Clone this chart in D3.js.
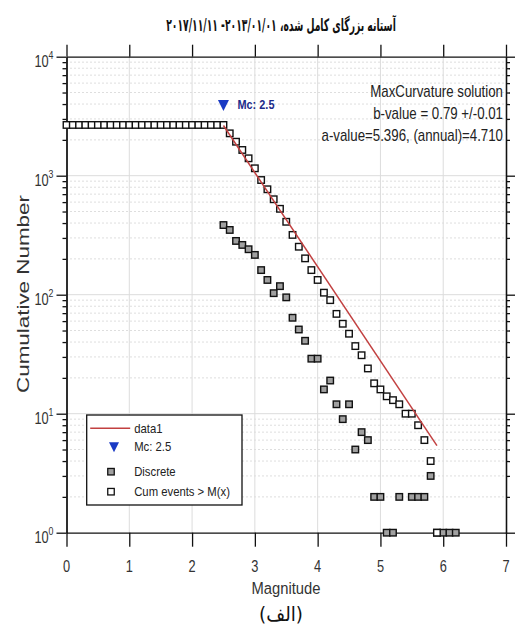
<!DOCTYPE html>
<html>
<head>
<meta charset="utf-8">
<script src="https://cdn.jsdelivr.net/npm/d3@7"></script>
<style>
  body { margin: 0; background: #fff; }
  text { font-family: "Liberation Sans", Arial, sans-serif; fill: #333; }
</style>
</head>
<body>
<svg class="chart" width="515" height="629"></svg>
<script>
// values
const cumMag = [0.0, 0.1, 0.2, 0.3, 0.4, 0.5, 0.6, 0.7, 0.8, 0.9, 1.0, 1.1, 1.2, 1.3, 1.4, 1.5, 1.6, 1.7, 1.8, 1.9,
    2.0, 2.1, 2.2, 2.3, 2.4, 2.5, 2.6, 2.7, 2.8, 2.9, 3.0, 3.1, 3.2, 3.3, 3.4, 3.5, 3.6, 3.7, 3.8, 3.9,
    4.0, 4.1, 4.2, 4.3, 4.4, 4.5, 4.6, 4.7, 4.8, 4.9, 5.0, 5.1, 5.2, 5.3, 5.4, 5.5, 5.6, 5.7, 5.8, 5.9];
const cumCount = [2670, 2670, 2670, 2670, 2670, 2670, 2670, 2670, 2670, 2670, 2670, 2670, 2670, 2670, 2670, 2670, 2670, 2670, 2670, 2670,
    2670, 2670, 2670, 2670, 2670, 2670, 2270, 1930, 1645, 1400, 1154, 920, 769, 634, 527, 410, 318, 253, 202, 161,
    133, 104, 90, 69, 57, 47, 37, 31, 24, 18, 16, 14, 13, 12, 10, 10, 8, 6, 4, 1];

const discMag = [2.5, 2.6, 2.7, 2.8, 2.9, 3.0, 3.1, 3.2, 3.3, 3.4, 3.5, 3.6, 3.7, 3.8, 3.9, 4.0, 4.1, 4.2, 4.3, 4.4,
    4.5, 4.6, 4.7, 4.8, 4.9, 5.0, 5.1, 5.2, 5.3, 5.5, 5.6, 5.7, 5.8, 5.9, 6.0, 6.1, 6.2];
const discCount = [385, 350, 283, 262, 241, 216, 161, 133, 103, 118, 95, 64, 51, 41, 29, 29, 16, 19, 12, 9,
    12, 5, 7, 6, 2, 2, 1, 1, 2, 2, 2, 2, 3, 1, 1, 1, 1];

const fitMag = [2.5, 5.9];
const fitCount = [2640, 5.4];

const mcValue = 2.5;
const mcMarkerCount = 3930;

const xTicks = [0, 1, 2, 3, 4, 5, 6, 7];
const yTicks = [1, 10, 100, 1000, 10000];
const yExponents = ['0', '1', '2', '3', '4'];

const titleText = 'آستانه بزرگای کامل شده، ۲۰۱۳/۰۱/۰۱- ۲۰۱۷/۱۱/۱۱';
const noteLines = ['MaxCurvature solution', 'b-value = 0.79 +/-0.01', 'a-value=5.396, (annual)=4.710'];
const legendLabels = ['data1', 'Mc: 2.5', 'Discrete', 'Cum events > M(x)'];

const margin = {top: 56.7, left: 66.5};
const width = 439.5, height = 476;
const boxSize = 6.5;

const svg = d3.select('.chart');
const chart = svg.append('g')
    .attr('transform', `translate(${margin.left},${margin.top})`);

const x = d3.scaleLinear().domain([0, 7]).range([0, width]);
const y = d3.scaleLog().domain([1, 10000]).range([height, 0]);

// text squeezed horizontally, like the stretched picture
function squeezed(parent, str, px, py, opts) {
    const t = parent.append('text')
        .attr('text-anchor', opts.anchor || 'start')
        .style('font-size', opts.size + 'px')
        .text(str);
    if (opts.family) t.style('font-family', opts.family);
    if (opts.weight) t.style('font-weight', opts.weight);
    if (opts.fill) t.style('fill', opts.fill);
    if (opts.rtl) t.attr('direction', 'rtl');
    let s = opts.scale || 1;
    if (opts.target) s = opts.target / t.node().getComputedTextLength();
    const rot = opts.rotate ? ` rotate(${opts.rotate})` : '';
    t.attr('transform', `translate(${px},${py})${rot} scale(${s},1)`);
    return t;
}

// minor values for the log axis
const minorVals = [];
[1, 10, 100, 1000].forEach(d => {
    [2, 3, 4, 5, 6, 7, 8, 9].forEach(k => minorVals.push(d * k));
});

// grid
chart.selectAll('.minor-grid')
    .data(minorVals)
    .enter().append('line')
    .attr('x1', 0).attr('x2', width)
    .attr('y1', d => y(d)).attr('y2', d => y(d))
    .style('stroke', '#bcbcbc')
    .style('stroke-width', 1)
    .style('stroke-dasharray', '1,3');

chart.selectAll('.major-grid-y')
    .data(yTicks.slice(1, -1))
    .enter().append('line')
    .attr('x1', 0).attr('x2', width)
    .attr('y1', d => y(d)).attr('y2', d => y(d))
    .style('stroke', '#dcdcdc');

chart.selectAll('.major-grid-x')
    .data(xTicks.slice(1, -1))
    .enter().append('line')
    .attr('x1', d => x(d)).attr('x2', d => x(d))
    .attr('y1', 0).attr('y2', height)
    .style('stroke', '#dcdcdc');

// axes (lines and ticks only)
function styleAxis(g) {
    g.selectAll('path, line').style('stroke', '#111').style('stroke-width', 1.3);
    g.selectAll('text').remove();
}

chart.append('g').attr('transform', `translate(0,${height})`)
    .call(d3.axisBottom(x).tickValues(xTicks).tickSize(14).tickSizeOuter(0)).call(styleAxis);
chart.append('g')
    .call(d3.axisTop(x).tickValues(xTicks).tickSize(12).tickSizeOuter(0)).call(styleAxis);
chart.append('g')
    .call(d3.axisLeft(y).tickValues(yTicks).tickSize(10).tickSizeOuter(0)).call(styleAxis);
chart.append('g')
    .call(d3.axisLeft(y).tickValues(minorVals).tickSize(4).tickSizeOuter(0)).call(styleAxis);
chart.append('g').attr('transform', `translate(${width},0)`)
    .call(d3.axisRight(y).tickValues(yTicks).tickSize(9).tickSizeOuter(0)).call(styleAxis);
chart.append('g').attr('transform', `translate(${width},0)`)
    .call(d3.axisRight(y).tickValues(minorVals).tickSize(4).tickSizeOuter(0)).call(styleAxis);

// tick labels
chart.selectAll('.x-label')
    .data(xTicks)
    .enter().append('text')
    .attr('transform', d => `translate(${x(d)},${height + 39}) scale(0.8,1)`)
    .attr('text-anchor', 'middle')
    .style('font-size', '16px')
    .text(d => d);

const yLabels = chart.selectAll('.y-label')
    .data(yTicks)
    .enter().append('text')
    .attr('transform', d => `translate(-13,${y(d) + 10}) scale(0.8,1)`)
    .attr('text-anchor', 'end')
    .style('font-size', '16px');
yLabels.append('tspan').text('10');
yLabels.append('tspan')
    .attr('dy', -8)
    .style('font-size', '11px')
    .text((d, i) => yExponents[i]);

// data
chart.selectAll('.discrete')
    .data(discMag)
    .enter().append('rect')
    .attr('x', (d) => x(d) - boxSize / 2)
    .attr('y', (d, i) => y(discCount[i]) - boxSize / 2)
    .attr('width', boxSize).attr('height', boxSize)
    .style('fill', '#a0a0a0')
    .style('stroke', '#111')
    .style('stroke-width', 1.4);

chart.selectAll('.cum')
    .data(cumMag)
    .enter().append('rect')
    .attr('x', (d) => x(d) - boxSize / 2)
    .attr('y', (d, i) => y(cumCount[i]) - boxSize / 2)
    .attr('width', boxSize).attr('height', boxSize)
    .style('fill', '#fff')
    .style('stroke', '#111')
    .style('stroke-width', 1.4);

chart.append('line')
    .attr('x1', x(fitMag[0])).attr('y1', y(fitCount[0]))
    .attr('x2', x(fitMag[1])).attr('y2', y(fitCount[1]))
    .style('stroke', '#c24040')
    .style('stroke-width', 1.5);

// Mc marker
const triangle = (cx, cy, s) => `M${cx - s / 2},${cy - s * 0.45} L${cx + s / 2},${cy - s * 0.45} L${cx},${cy + s * 0.55} Z`;
chart.append('path')
    .attr('d', triangle(x(mcValue), y(mcMarkerCount), 11))
    .style('fill', '#1a3ac4');
squeezed(chart, 'Mc: ' + mcValue, x(mcValue) + 14, y(mcMarkerCount) + 4.5,
    {size: 13, weight: 'bold', fill: '#1c2a8a', target: 37});

// annotation top right
noteLines.forEach((line, i) => {
    squeezed(chart, line, width - 3, 40.5 + i * 22, {size: 16, anchor: 'end', fill: '#222', scale: 0.83});
});

// legend
const legend = svg.append('g').attr('transform', 'translate(86.7,415)');
legend.append('rect')
    .attr('width', 155.3).attr('height', 90)
    .style('fill', '#fff')
    .style('stroke', '#111')
    .style('stroke-width', 1.3);
const rowY = [13.3, 31.7, 56.7, 76.7];
legend.append('line')
    .attr('x1', 3.5).attr('x2', 43.5)
    .attr('y1', rowY[0]).attr('y2', rowY[0])
    .style('stroke', '#c24040').style('stroke-width', 1.5);
legend.append('path')
    .attr('d', triangle(27.3, rowY[1], 10))
    .style('fill', '#1a3ac4');
legend.append('rect')
    .attr('x', 24.3 - boxSize / 2).attr('y', rowY[2] - boxSize / 2)
    .attr('width', boxSize).attr('height', boxSize)
    .style('fill', '#a0a0a0').style('stroke', '#111').style('stroke-width', 1.3);
legend.append('rect')
    .attr('x', 24.3 - boxSize / 2).attr('y', rowY[3] - boxSize / 2)
    .attr('width', boxSize).attr('height', boxSize)
    .style('fill', '#fff').style('stroke', '#111').style('stroke-width', 1.3);
legendLabels.forEach((label, i) => {
    squeezed(legend, label, 47.5, rowY[i] + 4.5, {size: 13, fill: '#222', scale: 0.87});
});

// titles
squeezed(svg, titleText, 281, 31, {size: 17, weight: 'bold', anchor: 'middle', rtl: true,
    family: '"DejaVu Sans", sans-serif', fill: '#111', target: 230});

squeezed(svg, 'Cumulative Number', 29, 294, {size: 17, anchor: 'middle', rotate: -90, target: 198});

squeezed(svg, 'Magnitude', 286, 594, {size: 17, anchor: 'middle', target: 69});

squeezed(svg, '(الف)', 281, 621, {size: 20, anchor: 'middle', rtl: true,
    family: '"DejaVu Sans", sans-serif', fill: '#111', target: 44});
</script>
</body>
</html>
